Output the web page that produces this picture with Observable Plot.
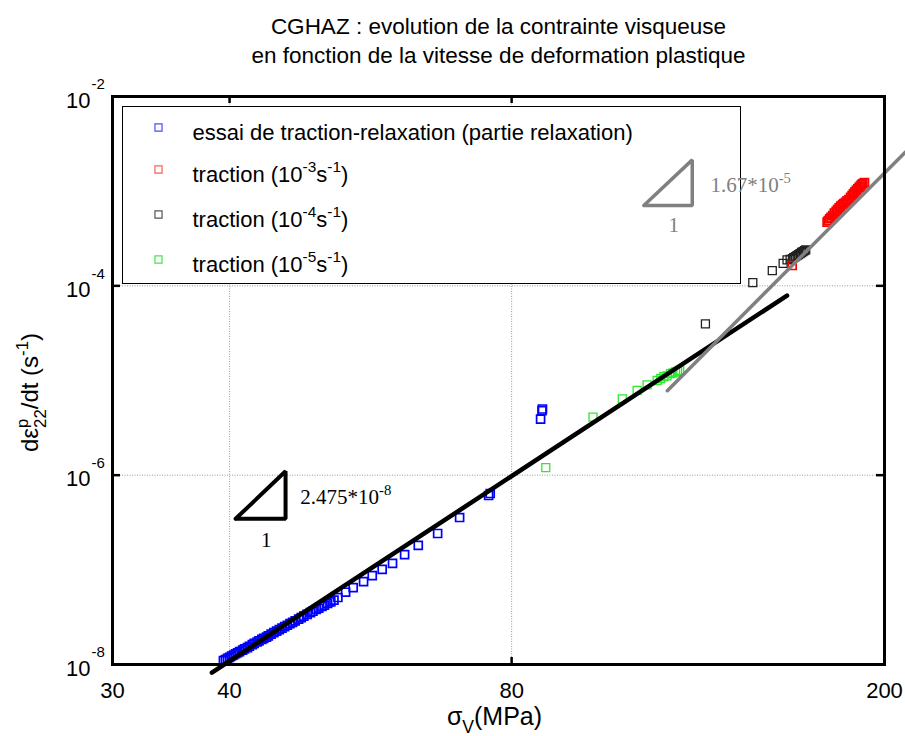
<!DOCTYPE html>
<html><head><meta charset="utf-8">
<script src="https://cdn.jsdelivr.net/npm/d3@7"></script>
<script src="https://cdn.jsdelivr.net/npm/@observablehq/plot@0.6"></script>
<style>
html,body{margin:0;padding:0;background:#fff;}
#chart svg{display:block;}
</style></head>
<body><div id="chart"></div>
<script>
// ---- data ----
const titleLines = ["CGHAZ : evolution de la contrainte visqueuse", "en fonction de la vitesse de deformation plastique"];
const xTicks = [30, 40, 80, 200];
const yTicks = [1e-8, 1e-6, 1e-4, 1e-2];
const xGrid = [40, 80];
const yGrid = [1e-6, 1e-4];
const xLabel = "σ_{V}(MPa)";
const yLabel = "dε^{p}_{22}/dt (s^{-1})";

const legendLabels = [
  "essai de traction-relaxation (partie relaxation)",
  "traction (10^{-3}s^{-1})",
  "traction (10^{-4}s^{-1})",
  "traction (10^{-5}s^{-1})"
];

const relaxX = [39.4, 39.6, 39.8, 40.0, 40.2, 40.4, 40.6, 40.8, 41.0, 41.3, 41.5, 41.8, 42.0, 42.3, 42.5, 42.8, 43.0, 43.3, 43.5, 43.8, 44.0, 44.3, 44.6, 44.9, 45.2, 45.5, 45.8, 46.1, 46.4, 46.7, 47.0, 47.4, 47.7, 48.0, 48.4, 48.8, 49.1, 49.5, 49.8, 50.2, 50.5, 50.9, 51.3, 51.7, 52.2, 53.2, 54.2, 55.6, 56.8, 58.2, 59.7, 61.5, 63.6, 66.7, 70.4, 75.9, 75.6, 85.9, 86.2, 86.3];
const relaxY = [1.10e-8, 1.13e-8, 1.16e-8, 1.19e-8, 1.23e-8, 1.26e-8, 1.30e-8, 1.33e-8, 1.37e-8, 1.42e-8, 1.46e-8, 1.51e-8, 1.56e-8, 1.62e-8, 1.67e-8, 1.73e-8, 1.78e-8, 1.84e-8, 1.89e-8, 1.95e-8, 2.01e-8, 2.09e-8, 2.17e-8, 2.25e-8, 2.34e-8, 2.42e-8, 2.51e-8, 2.60e-8, 2.70e-8, 2.79e-8, 2.89e-8, 3.02e-8, 3.13e-8, 3.24e-8, 3.38e-8, 3.53e-8, 3.65e-8, 3.81e-8, 3.93e-8, 4.10e-8, 4.23e-8, 4.42e-8, 4.59e-8, 4.78e-8, 5.1e-8, 5.8e-8, 6.5e-8, 7.5e-8, 8.7e-8, 1.01e-7, 1.17e-7, 1.45e-7, 1.81e-7, 2.42e-7, 3.57e-7, 6.4e-7, 6.1e-7, 3.9e-6, 4.8e-6, 5.0e-6];

const t3X = [159.4, 173.7, 174.2, 174.8, 175.4, 176.1, 176.8, 177.6, 178.2, 178.9, 179.6, 180.4, 181.0, 181.7, 182.4, 183.2, 184.0, 184.7, 185.3, 185.9, 186.6, 187.3, 187.9, 188.5, 189.0, 189.6, 190.4];
const t3Y = [1.64e-4, 4.70e-4, 4.90e-4, 5.11e-4, 5.30e-4, 5.53e-4, 5.85e-4, 6.14e-4, 6.40e-4, 6.67e-4, 6.95e-4, 7.23e-4, 7.40e-4, 7.64e-4, 7.90e-4, 8.17e-4, 8.60e-4, 9.0e-4, 9.35e-4, 9.75e-4, 1.02e-3, 1.06e-3, 1.10e-3, 1.13e-3, 1.17e-3, 1.20e-3, 1.23e-3];

const t4X = [128.8, 144.7, 151.8, 155.9, 157.4, 158.6, 159.5, 160.0, 160.7, 161.3, 161.9, 162.5, 163.1, 163.7, 164.3, 164.8];
const t4Y = [3.97e-5, 1.08e-4, 1.45e-4, 1.73e-4, 1.88e-4, 1.90e-4, 1.94e-4, 1.99e-4, 2.04e-4, 2.09e-4, 2.14e-4, 2.19e-4, 2.25e-4, 2.30e-4, 2.36e-4, 2.40e-4];

const t5X = [87.0, 97.7, 105.0, 108.9, 111.6, 114.4, 115.4, 116.3, 117.2, 118.2, 118.9, 119.7, 120.3, 120.9];
const t5Y = [1.2e-6, 4.1e-6, 6.4e-6, 7.85e-6, 9.0e-6, 1.0e-5, 1.05e-5, 1.1e-5, 1.12e-5, 1.18e-5, 1.2e-5, 1.23e-5, 1.25e-5, 1.28e-5];

const fitBlackX = [38.3, 157.4];
const fitBlackY = [8.2e-9, 7.9e-5];
const fitGrayX = [117.3, 210.6];
const fitGrayY = [7.8e-6, 2.6e-3];

const triBlackX = [40.6, 45.9, 45.9, 40.6];
const triBlackY = [3.46e-7, 3.46e-7, 1.10e-6, 3.46e-7];
const triGrayX = [110.7, 124.7, 124.7, 110.7];
const triGrayY = [7.06e-4, 7.06e-4, 2.14e-3, 7.06e-4];

const slopeLabels = [
  {x: 47.6, y: 5.8e-7, text: "2.475*10^{-8}", color: "black"},
  {x: 43.2, y: 2.04e-7, text: "1", color: "black"},
  {x: 130.4, y: 1.15e-3, text: "1.67*10^{-5}", color: "#808080"},
  {x: 117.6, y: 4.34e-4, text: "1", color: "#808080"}
];

// ---- build ----
const zip = (xs, ys) => xs.map((x, i) => ({x, y: ys[i]}));
const relax = zip(relaxX, relaxY), t3 = zip(t3X, t3Y), t4 = zip(t4X, t4Y), t5 = zip(t5X, t5Y);
const W = 905, H = 736, mL = 112, mR = 21, mT = 96, mB = 72;
const pw = W - mL - mR, ph = H - mT - mB;
const SANS = "'Liberation Sans',Arial,Helvetica,sans-serif";
const SERIF = "'Liberation Serif','Times New Roman',serif";

const legendColors = ["#4a4aff", "#ff5a5a", "#555555", "#4be04b"];
const legendDy = [31, 73, 118, 163];

const marks = [
  // grid
  Plot.ruleX(xGrid, {stroke: "#9a9a9a", strokeWidth: 1, strokeDasharray: "1,1.5"}),
  Plot.ruleY(yGrid, {stroke: "#9a9a9a", strokeWidth: 1, strokeDasharray: "1,1.5"}),
  // inward ticks
  Plot.ruleX(xGrid, {stroke: "black", strokeWidth: 2.5, insetTop: ph - 7}),
  Plot.ruleX(xGrid, {stroke: "black", strokeWidth: 2.5, insetBottom: ph - 7}),
  Plot.ruleY(yGrid, {stroke: "black", strokeWidth: 2.5, insetRight: pw - 8}),
  Plot.ruleY(yGrid, {stroke: "black", strokeWidth: 2.5, insetLeft: pw - 8}),
  // legend box
  Plot.frame({fill: "white", stroke: "black", strokeWidth: 1, insetLeft: 10, insetTop: 10, insetRight: 144, insetBottom: 381}),
  ...legendLabels.map((l, i) => Plot.dot([l], {frameAnchor: "top-left", dx: 46, dy: legendDy[i], symbol: "square", r: 4, stroke: legendColors[i], strokeWidth: 1.2, fill: "none"})),
  ...legendLabels.map((l, i) => Plot.text([l], {frameAnchor: "top-left", dx: 80, dy: legendDy[i] + 5, text: d => d, textAnchor: "start", lineAnchor: "middle", fontSize: 22, fill: "black"})),
  // triangles
  Plot.line(zip(triBlackX, triBlackY), {x: "x", y: "y", stroke: "black", strokeWidth: 4, strokeLinejoin: "miter"}),
  Plot.line(zip(triGrayX, triGrayY), {x: "x", y: "y", stroke: "#808080", strokeWidth: 3.5, strokeLinejoin: "miter"}),
  Plot.text(slopeLabels, {x: "x", y: "y", text: "text", fill: "color", textAnchor: "start", lineAnchor: "middle", fontSize: 21, fontFamily: SERIF}),
  // data
  Plot.dot(relax, {x: "x", y: "y", symbol: "square", r: 4.5, stroke: "#0000ff", strokeWidth: 1.7, fill: "none"}),
  Plot.dot(t5, {x: "x", y: "y", symbol: "square", r: 4.5, stroke: "#2ee82e", strokeWidth: 1.3, fill: "none"}),
  Plot.dot(t4, {x: "x", y: "y", symbol: "square", r: 4.5, stroke: "#222", strokeWidth: 1.3, fill: "none"}),
  Plot.dot(t3, {x: "x", y: "y", symbol: "square", r: 4.5, stroke: "#ff0000", strokeWidth: 1.7, fill: "none"}),
  // fits
  Plot.line(zip(fitBlackX, fitBlackY), {x: "x", y: "y", stroke: "black", strokeWidth: 4.5}),
  Plot.line(zip(fitGrayX, fitGrayY), {x: "x", y: "y", stroke: "#808080", strokeWidth: 3.5}),
  // frame
  Plot.frame({stroke: "black", strokeWidth: 3}),
  // tick labels
  Plot.text(xTicks, {x: d => d, frameAnchor: "bottom", dy: 26, lineAnchor: "middle", text: d => String(d), fontSize: 22}),
  Plot.text(yTicks, {y: d => d, frameAnchor: "left", dx: -22, dy: 4, lineAnchor: "middle", text: () => "10", textAnchor: "end", fontSize: 22}),
  Plot.text(yTicks, {y: d => d, frameAnchor: "left", dx: -21, dy: -12, lineAnchor: "middle", text: d => String(Math.round(Math.log10(d))), textAnchor: "start", fontSize: 15}),
  // axis labels
  Plot.text([xLabel], {frameAnchor: "bottom", dx: -4, dy: 52, lineAnchor: "middle", text: d => d, fontSize: 25}),
  Plot.text([yLabel], {frameAnchor: "left", dx: -82, dy: 12, textAnchor: "middle", lineAnchor: "middle", text: d => d, rotate: -90, fontSize: 24, ariaLabel: "ylabel"}),
  // title
  Plot.text([titleLines[0]], {frameAnchor: "top", dy: -70, lineAnchor: "middle", text: d => d, fontSize: 22.5}),
  Plot.text([titleLines[1]], {frameAnchor: "top", dy: -41, lineAnchor: "middle", text: d => d, fontSize: 22.5})
];

const plot = Plot.plot({
  width: W, height: H,
  marginLeft: mL, marginRight: mR, marginTop: mT, marginBottom: mB,
  x: {type: "log", domain: [30, 200], axis: null},
  y: {type: "log", domain: [1e-8, 1e-2], axis: null},
  style: {fontFamily: SANS, background: "white", overflow: "visible"},
  marks
});
document.getElementById("chart").appendChild(plot);

// rich text: ^{..} superscript, _{..} subscript
const NS = "http://www.w3.org/2000/svg";
plot.querySelectorAll("text").forEach(el => {
  const s = el.textContent;
  if (!/[\^_]\{/.test(s)) return;
  const fs = parseFloat(getComputedStyle(el).fontSize) || 16;
  while (el.firstChild) el.removeChild(el.firstChild);
  const re = /([\^_])\{([^}]*)\}|([^\^_]+)/g;
  let m, shift = 0, prev = null, prevKind = null;
  while ((m = re.exec(s))) {
    const t = document.createElementNS(NS, "tspan");
    let target, kind;
    if (m[3] !== undefined) { target = 0; kind = "n"; t.textContent = m[3]; }
    else if (m[1] === "^") { target = -0.42 * fs; kind = "sup"; t.textContent = m[2]; t.setAttribute("font-size", (0.7 * fs).toFixed(1)); }
    else { target = 0.32 * fs; kind = "sub"; t.textContent = m[2]; t.setAttribute("font-size", (0.7 * fs).toFixed(1)); }
    t.setAttribute("dy", (target - shift).toFixed(1));
    shift = target;
    el.appendChild(t);
    if (kind === "sub" && prevKind === "sup" && prev) {
      t.setAttribute("dx", (-prev.getComputedTextLength()).toFixed(1));
    }
    prev = t; prevKind = kind;
  }
});

// stretch the y-axis label along its direction to the reference's length
const yl = plot.querySelector('g[aria-label="ylabel"] text');
if (yl) {
  const len = yl.getBBox().width;
  const k = len > 0 ? 158 / len : 1;
  yl.setAttribute("transform", (yl.getAttribute("transform") || "") + ` scale(${k.toFixed(3)},1)`);
}
</script>
</body></html>
